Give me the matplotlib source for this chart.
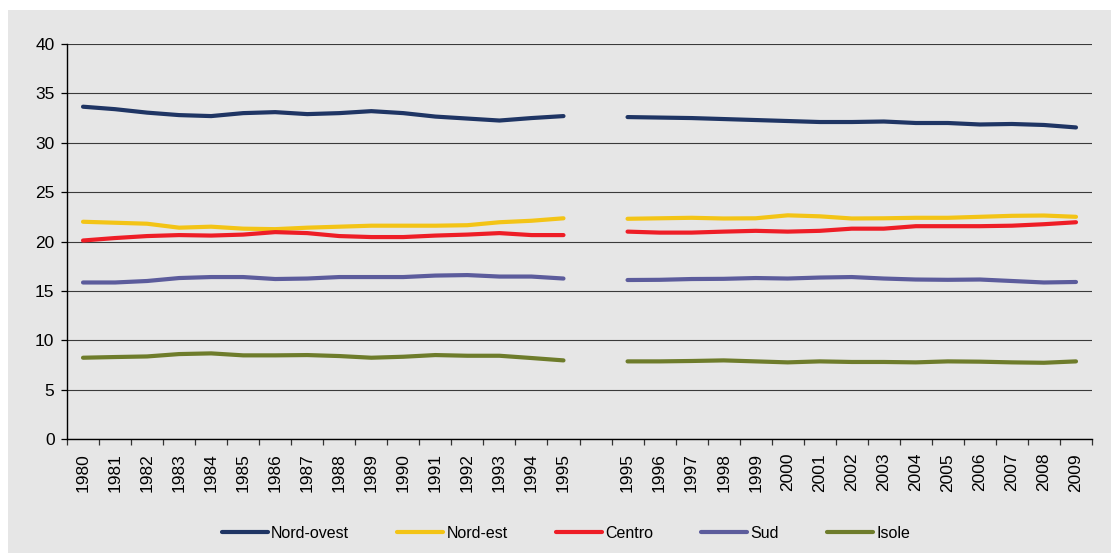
import numpy as np
import matplotlib
matplotlib.use("Agg")
import matplotlib.pyplot as plt
from matplotlib.patches import Rectangle

plt.rcParams['font.family'] = ['Liberation Sans', 'DejaVu Sans']

# Data (share %). Two periods, both include 1995
years_a = list(range(1980, 1996))
years_b = list(range(1995, 2010))

nord_ovest_a = [33.65, 33.4, 33.05, 32.8, 32.7, 33.0, 33.1, 32.9, 33.0, 33.2, 33.0, 32.65, 32.45, 32.25, 32.5, 32.7]
nord_est_a = [22.0, 21.9, 21.8, 21.4, 21.5, 21.3, 21.25, 21.4, 21.5, 21.6, 21.6, 21.6, 21.65, 21.95, 22.1, 22.35]
centro_a = [20.1, 20.35, 20.55, 20.65, 20.6, 20.7, 20.95, 20.85, 20.55, 20.45, 20.45, 20.6, 20.7, 20.85, 20.65, 20.65]
sud_a = [15.85, 15.85, 16.0, 16.3, 16.4, 16.4, 16.2, 16.25, 16.4, 16.4, 16.4, 16.55, 16.6, 16.45, 16.45, 16.25]
isole_a = [8.23, 8.3, 8.36, 8.6, 8.67, 8.47, 8.47, 8.5, 8.4, 8.23, 8.33, 8.5, 8.43, 8.43, 8.2, 7.96]

nord_ovest_b = [32.6, 32.55, 32.5, 32.4, 32.3, 32.2, 32.1, 32.1, 32.15, 32.0, 32.0, 31.85, 31.9, 31.8, 31.55]
nord_est_b = [22.3, 22.35, 22.4, 22.33, 22.35, 22.65, 22.55, 22.33, 22.35, 22.4, 22.4, 22.5, 22.6, 22.63, 22.5]
centro_b = [21.0, 20.9, 20.9, 21.0, 21.08, 21.0, 21.08, 21.3, 21.3, 21.55, 21.55, 21.55, 21.6, 21.75, 21.95]
sud_b = [16.1, 16.12, 16.2, 16.22, 16.3, 16.25, 16.35, 16.4, 16.25, 16.15, 16.12, 16.15, 16.0, 15.85, 15.9]
isole_b = [7.86, 7.86, 7.9, 7.96, 7.86, 7.76, 7.86, 7.8, 7.8, 7.76, 7.86, 7.83, 7.76, 7.72, 7.86]

regions = ['Nord-ovest', 'Nord-est', 'Centro', 'Sud', 'Isole']
colors = ['#1f3564', '#f3c416', '#ee1d26', '#5c5c9c', '#6e7c2b']
series_a = [nord_ovest_a, nord_est_a, centro_a, sud_a, isole_a]
series_b = [nord_ovest_b, nord_est_b, centro_b, sud_b, isole_b]

# one empty category between the two periods
labels = [str(y) for y in years_a] + [''] + [str(y) for y in years_b]
x = np.arange(len(labels))

fig = plt.figure(figsize=(11.11, 5.53), dpi=100)
fig.patch.set_facecolor('white')
fig.patches.append(Rectangle((8 / 1111, 0), 1 - 8 / 1111, 1 - 10 / 553,
                             transform=fig.transFigure, facecolor='#e6e6e6',
                             edgecolor='none', zorder=-10))

ax = fig.add_axes([67 / 1111, 114 / 553, (1092 - 67) / 1111, (439 - 44) / 553])
ax.set_facecolor('none')

for name, col, a, b in zip(regions, colors, series_a, series_b):
    vals = list(a) + [np.nan] + list(b)
    ax.plot(x, vals, color=col, lw=3.0, solid_capstyle='round',
            solid_joinstyle='round', label=name)

ax.set_xlim(-0.5, len(labels) - 0.5)
ax.set_ylim(0, 40)
ax.set_yticks(range(0, 41, 5))
ax.yaxis.grid(True, color='#3a3a3a', lw=0.8)
ax.set_axisbelow(True)

ax.set_xticks(x)
ax.set_xticklabels(labels, rotation=90)
ax.set_xticks(np.arange(-0.5, len(labels)), minor=True)
ax.tick_params(axis='x', which='major', length=0, pad=10, labelsize=12.5)
ax.tick_params(axis='x', which='minor', length=4, width=0.9, color='#333333')
ax.tick_params(axis='y', length=4, width=0.9, pad=5, labelsize=12.5)

for s in ['top', 'right']:
    ax.spines[s].set_visible(False)
for s in ['left', 'bottom']:
    ax.spines[s].set_color('black')
    ax.spines[s].set_linewidth(1.0)

fig.legend(loc='center', bbox_to_anchor=(566 / 1111, 20 / 553), ncol=5,
           frameon=False, fontsize=11.5, handlelength=2.9, handletextpad=0.2,
           columnspacing=3.0)

fig.savefig('out.png', dpi=100)
